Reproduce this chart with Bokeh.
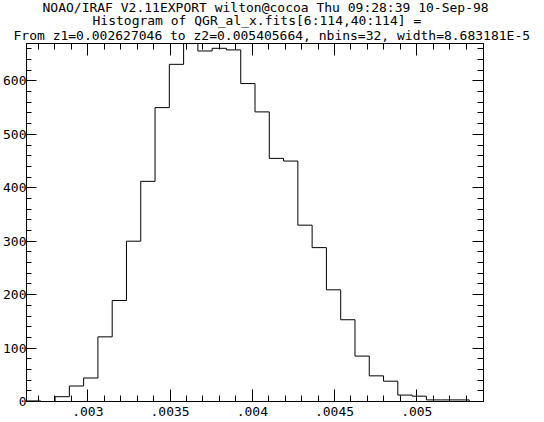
from bokeh.plotting import figure
from bokeh.models import (LinearAxis, FixedTicker, CustomJSTickFormatter, Title,
                          Range1d, GlobalInlineStyleSheet)
from bokeh.embed import file_html
from bokeh.resources import INLINE

# ---- data ----
title_lines = [
    "NOAO/IRAF V2.11EXPORT wilton@cocoa Thu 09:28:39 10-Sep-98",
    "Histogram of QGR_al_x.fits[6:114,40:114] =",
    "From z1=0.002627046 to z2=0.005405664, nbins=32, width=8.683181E-5",
]
z1 = 0.002627046
z2 = 0.005405664
nbins = 32
bin_width = 8.683181e-5
counts = [1, 0, 9, 29, 44, 121, 189, 300, 412, 550, 631, 670,
          656, 661, 658, 595, 542, 455, 450, 330, 288, 209, 153, 85,
          48, 38, 12, 10, 3, 3, 3, 0]
x_major = [0.003, 0.0035, 0.004, 0.0045, 0.005]
x_minor = [0.0027, 0.0028, 0.0029, 0.0031, 0.0032, 0.0033, 0.0034, 0.0036,
           0.0037, 0.0038, 0.0039, 0.0041, 0.0042, 0.0043, 0.0044, 0.0046,
           0.0047, 0.0048, 0.0049, 0.0051, 0.0052, 0.0053]
y_major = [0, 100, 200, 300, 400, 500, 600]
y_minor = [20, 40, 60, 80, 120, 140, 160, 180, 220, 240, 260, 280, 320, 340,
           360, 380, 420, 440, 460, 480, 520, 540, 560, 580, 620, 640, 660]

edges = [z1 + i * bin_width for i in range(nbins + 1)]
step_y = counts + [counts[-1]]

FONT = "DejaVu Sans Mono"
W, H = 544, 422
BL, BR, BT, BB = 25, 61, 43, 21

p = figure(width=W, height=H, output_backend="svg", toolbar_location=None,
           x_range=Range1d(z1, z2), y_range=Range1d(0, max(counts)),
           title=None, min_border_left=BL, min_border_right=BR,
           min_border_top=BT, min_border_bottom=BB)
p.stylesheets = [GlobalInlineStyleSheet(css="body { margin: 0 !important; }")]
p.background_fill_color = "white"
p.border_fill_color = "white"
p.outline_line_color = "black"
p.outline_line_width = 1
p.grid.visible = False

p.step(x=edges, y=step_y, mode="after", line_color="black", line_width=1)

xt = FixedTicker(ticks=x_major, minor_ticks=x_minor)
yt = FixedTicker(ticks=y_major, minor_ticks=y_minor)
blank = CustomJSTickFormatter(code="return ''")

def style_axis(ax, major, minor):
    ax.axis_line_color = "black"
    ax.major_tick_line_color = "black"
    ax.minor_tick_line_color = "black"
    ax.major_tick_in = major
    ax.major_tick_out = 0
    ax.minor_tick_in = minor
    ax.minor_tick_out = 0
    ax.major_label_text_font = FONT
    ax.major_label_text_font_size = "13px"
    ax.major_label_text_color = "black"

bx = p.below[0]
bx.ticker = xt
bx.formatter = CustomJSTickFormatter(code="return tick.toString().replace(/^0/, '')")
style_axis(bx, 12, 6)
bx.major_label_standoff = 5

ly = p.left[0]
ly.ticker = yt
style_axis(ly, 10, 5)
ly.major_label_standoff = 0

ry = LinearAxis(ticker=yt, formatter=blank)
style_axis(ry, 11, 6)
ry.major_label_text_font_size = "0px"
ry.major_label_standoff = 0
p.add_layout(ry, "right")

tx = LinearAxis(ticker=xt, formatter=blank)
style_axis(tx, 12, 6)
tx.major_label_text_font_size = "0px"
tx.major_label_standoff = 0
p.add_layout(tx, "above")

# title lines, stacked upward from the frame (last line added first)
title_left = [41, 91, 12]
title_standoff = [-4.8, -4.4, 0.8]
for line, lx, so in reversed(list(zip(title_lines, title_left, title_standoff))):
    p.add_layout(Title(text=line, align="left", offset=lx - BL, text_font=FONT,
                       text_font_size="13px", text_font_style="normal",
                       text_color="black", standoff=so), "above")

open("out.html", "w").write(file_html(p, INLINE))
